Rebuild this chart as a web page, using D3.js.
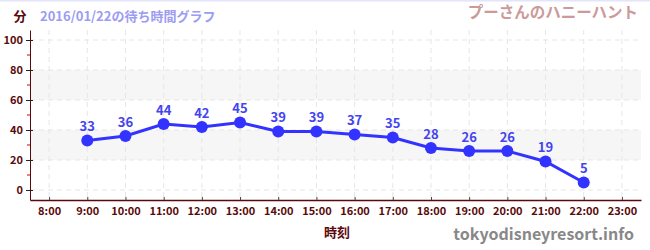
<!DOCTYPE html>
<html>
<head>
<meta charset="utf-8">
<script src="https://cdn.jsdelivr.net/npm/d3@7"></script>
<style>
  body { margin: 0; background: #fff; }
  svg text { font-family: "Noto Sans CJK JP", "Noto Sans", sans-serif; }
</style>
</head>
<body>
<div id="chart"></div>
<script>
const hours = [9, 10, 11, 12, 13, 14, 15, 16, 17, 18, 19, 20, 21, 22];
const waits = [33, 36, 44, 42, 45, 39, 39, 37, 35, 28, 26, 26, 19, 5];
const xTicks = [8, 9, 10, 11, 12, 13, 14, 15, 16, 17, 18, 19, 20, 21, 22, 23];
const yTicks = [0, 20, 40, 60, 80, 100];
const yMinor = [10, 30, 50, 70, 90];
const bands = [[20, 40], [60, 80]];

const width = 650, height = 250;
const margin = {top: 30, right: 9, bottom: 50, left: 30};

let svg = d3.select("#chart").append("svg")
  .attr("width", width)
  .attr("height", height);

const x = d3.scaleLinear().domain([7.5, 23.5]).range([margin.left, width - margin.right]);
const y = d3.scaleLinear().domain([-6.67, 106.67]).range([height - margin.bottom, margin.top]);

// top border line
svg.append("rect").attr("x", 0).attr("y", 0).attr("width", width).attr("height", 1.5).attr("fill", "#e4e4fb");

// bands
svg.append("g").selectAll("rect")
  .data(bands)
  .enter().append("rect")
  .attr("x", margin.left + 1)
  .attr("width", width - margin.right - margin.left - 1)
  .attr("y", d => y(d[1]))
  .attr("height", d => y(d[0]) - y(d[1]))
  .attr("fill", "#f6f6f6");

// grid
const grid = svg.append("g").attr("stroke", "#e6e6e6").attr("stroke-dasharray", "5,4");
grid.selectAll("line.v")
  .data(xTicks)
  .enter().append("line")
  .attr("x1", d => x(d)).attr("x2", d => x(d))
  .attr("y1", margin.top).attr("y2", height - margin.bottom);
grid.selectAll("line.h")
  .data(yTicks)
  .enter().append("line")
  .attr("x1", margin.left).attr("x2", width - margin.right)
  .attr("y1", d => y(d)).attr("y2", d => y(d));

// y axis
const yAxis = svg.append("g")
  .attr("transform", `translate(${margin.left},0)`)
  .call(d3.axisLeft(y).tickValues(yTicks).tickSizeInner(4).tickSizeOuter(0).tickPadding(3));
yAxis.select(".domain").attr("stroke", "#5a0a0a");
yAxis.selectAll(".tick line").attr("x2", 3).attr("x1", -4).attr("stroke", "#222");
yAxis.selectAll("text").attr("fill", "#5a0a0a").attr("font-size", 11).attr("font-weight", "bold");
svg.append("g").selectAll("line")
  .data(yMinor)
  .enter().append("line")
  .attr("x1", margin.left - 3).attr("x2", margin.left)
  .attr("y1", d => y(d)).attr("y2", d => y(d))
  .attr("stroke", "#e00000");

// x axis
const xAxis = svg.append("g")
  .attr("transform", `translate(0,${height - margin.bottom})`)
  .call(d3.axisBottom(x).tickValues(xTicks).tickFormat(d => d + ":00").tickSizeInner(4).tickSizeOuter(0).tickPadding(3));
xAxis.select(".domain").attr("stroke", "#5a0a0a").attr("stroke-width", 1.5);
xAxis.selectAll(".tick line").attr("y1", -3).attr("y2", 0).attr("stroke", "#444");
xAxis.selectAll("text").attr("fill", "#5a0a0a").attr("font-size", 11).attr("font-weight", "bold");

// line
svg.append("path")
  .datum(hours.map((h, i) => [h, waits[i]]))
  .attr("fill", "none")
  .attr("stroke", "#3333ff")
  .attr("stroke-width", 3)
  .attr("d", d3.line().x(d => x(d[0])).y(d => y(d[1])));

svg.append("g").selectAll("circle")
  .data(hours)
  .enter().append("circle")
  .attr("cx", d => x(d))
  .attr("cy", (d, i) => y(waits[i]))
  .attr("r", 6)
  .attr("fill", "#3333ff");

svg.append("g").selectAll("text")
  .data(hours)
  .enter().append("text")
  .attr("x", d => x(d))
  .attr("y", (d, i) => y(waits[i]) - 9)
  .attr("text-anchor", "middle")
  .attr("font-size", 13)
  .attr("font-weight", "bold")
  .attr("fill", "#4444ee")
  .text((d, i) => waits[i]);

// titles
svg.append("text").attr("x", 20).attr("y", 21).attr("text-anchor", "middle")
  .attr("font-size", 13).attr("font-weight", "bold").attr("fill", "#5a0a0a").text("分");
svg.append("text").attr("x", 40).attr("y", 21)
  .attr("font-size", 13).attr("font-weight", "bold").attr("fill", "#9c9cf2").text("2016/01/22の待ち時間グラフ");
svg.append("text").attr("x", 638).attr("y", 18).attr("text-anchor", "end")
  .attr("font-size", 15.5).attr("font-weight", "bold").attr("fill", "#cc9a9a").text("プーさんのハニーハント");
svg.append("text").attr("x", 337).attr("y", 237).attr("text-anchor", "middle")
  .attr("font-size", 13).attr("font-weight", "bold").attr("fill", "#5a0a0a").text("時刻");
svg.append("text").attr("x", 634).attr("y", 240).attr("text-anchor", "end")
  .attr("font-size", 16).attr("font-weight", "bold").attr("fill", "#888").text("tokyodisneyresort.info");
</script>
</body>
</html>
